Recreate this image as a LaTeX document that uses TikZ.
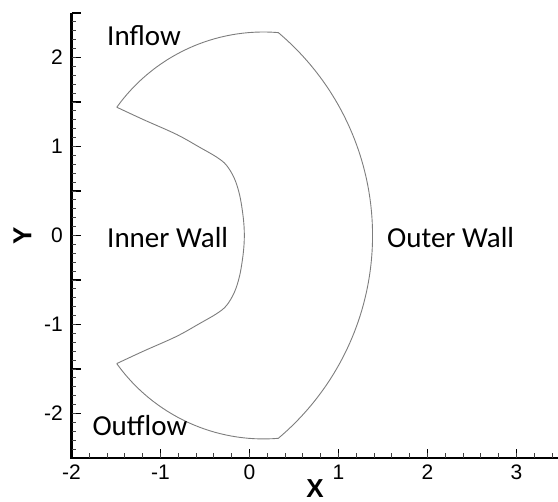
\documentclass[tikz,border=0pt]{standalone}
\usepackage{fontspec}
\setmainfont{Carlito}
\newfontfamily\axfont{Liberation Sans}
\definecolor{wallgray}{RGB}{125,125,125}
\begin{document}
\begin{tikzpicture}[x=89pt,y=89pt,
  wall/.style={draw=wallgray, line width=0.9pt, line join=round},
  axisline/.style={draw=black, line width=2.2pt, line join=miter},
  majortick/.style={draw=black, line width=1.4pt},
  minortick/.style={draw=black!75, line width=0.8pt},
  ticklab/.style={inner sep=0pt, font=\axfont\fontsize{21}{21}\selectfont},
  axtitle/.style={inner sep=0pt, font=\axfont\bfseries\fontsize{26}{26}\selectfont},
  region/.style={inner sep=0pt, anchor=base west, font=\fontsize{29}{29}\selectfont}]
\useasboundingbox (-2.8034,-2.9955) rectangle (3.4663,2.6449);

% axes
\draw[axisline] (-2,2.5) -- (-2,-2.5) -- (3.47,-2.5);
\foreach \y in {-2.5,-2,...,2.5} \draw[majortick] (-2,\y) -- ++(0.112,0);
\foreach \y in {-2.4,-2.3,...,2.45} \draw[minortick] (-2,\y) -- ++(0.056,0);
\foreach \x in {-1,0,...,3} \draw[majortick] (\x,-2.5) -- ++(0,0.10);
\foreach \x in {-1.8,-1.6,...,3.45} \draw[minortick] (\x,-2.5) -- ++(0,0.056);

\foreach \y [count=\i] in {-2,-1,0,1,2} \node[ticklab, anchor=east] (yl\i) at (-2.095,\y) {\y};
\foreach \x [count=\i] in {-2,-1,0,1,2,3} \node[ticklab, anchor=north] (xl\i) at (\x,-2.58) {\x};

\node[axtitle] (xt) at (0.736,-2.85) {X};
\node[axtitle, rotate=90] (yt) at (-2.55,0) {Y};

% domain outline
\coordinate (A) at (-1.491,1.440);
\draw[wall] (A) arc[start angle=144.3, end angle=85.3, radius=2.03] coordinate (B)
  arc[start angle=49.83, end angle=-49.83, radius=2.983] coordinate (C)
  arc[start angle=-85.3, end angle=-144.3, radius=2.03] coordinate (D)
  plot[smooth, tension=0.55] coordinates {(-1.491,-1.44) (-1.19,-1.30) (-0.82,-1.135) (-0.56,-0.99) (-0.37,-0.88) (-0.26,-0.79) (-0.17,-0.64) (-0.11,-0.45) (-0.07,-0.2) (-0.058,0) (-0.07,0.2) (-0.11,0.45) (-0.17,0.64) (-0.26,0.79) (-0.37,0.88) (-0.56,0.99) (-0.82,1.135) (-1.19,1.30) (-1.491,1.44)};

% region labels
\node[region] (inflow) at (-1.601,2.139) {Inflow};
\node[region] (inner) at (-1.601,-0.136) {Inner Wall};
\node[region] (outer) at (1.545,-0.136) {Outer Wall};
\node[region] (outflow) at (-1.766,-2.243) {Outflow};
\end{tikzpicture}
\end{document}
